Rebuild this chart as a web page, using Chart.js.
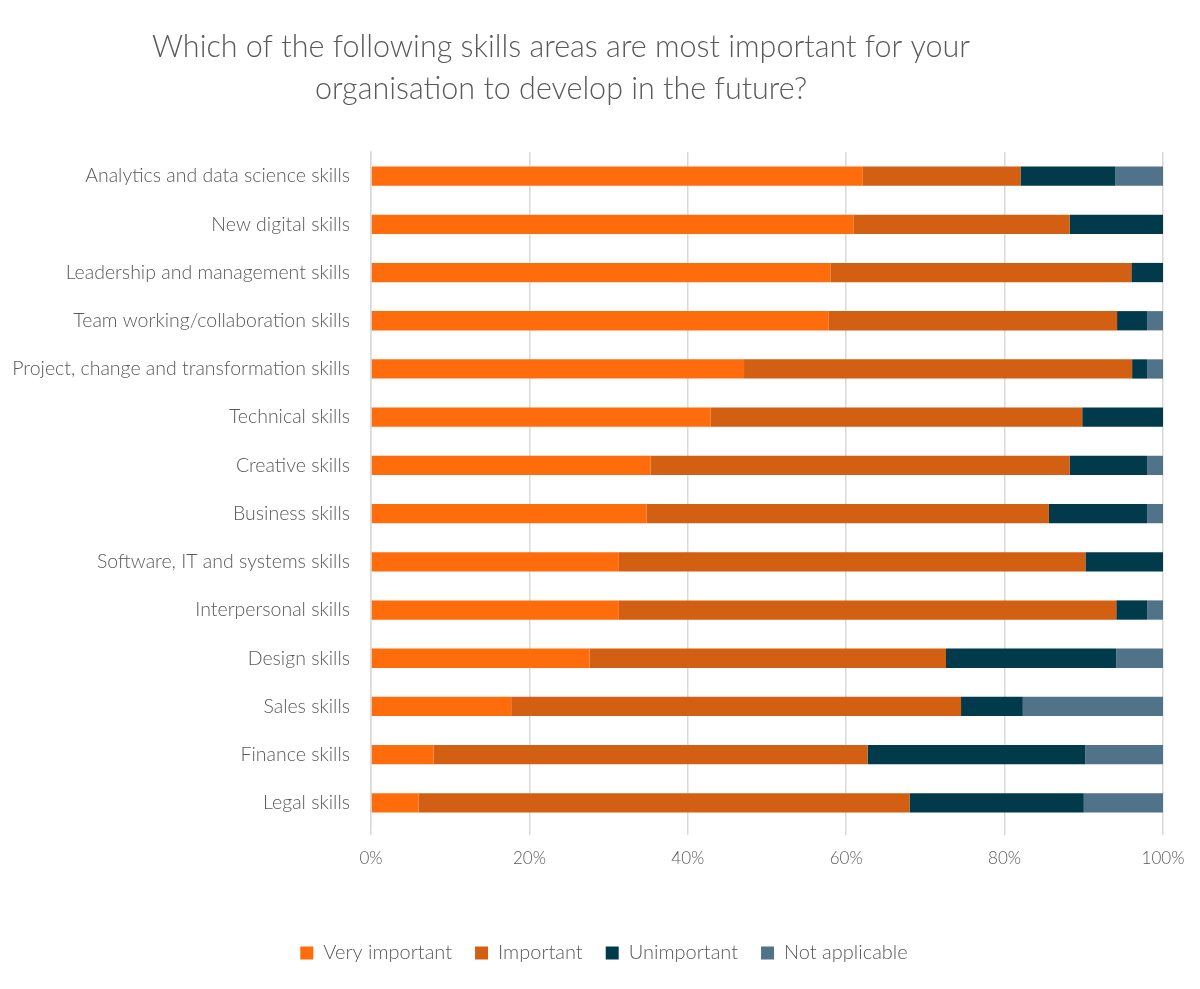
<!DOCTYPE html>
<html><head><meta charset="utf-8">
<script src="https://cdn.jsdelivr.net/npm/chart.js@4.4.1/dist/chart.umd.min.js"></script>
<style>html,body{margin:0;padding:0;background:#fff;overflow:hidden}</style>
</head><body>
<canvas id="c" width="1200" height="989"></canvas>
<script>
const titleLines = ["Which of the following skills areas are most important for your", "organisation to develop in the future?"];
const categories = ["Analytics and data science skills","New digital skills","Leadership and management skills","Team working/collaboration skills","Project, change and transformation skills","Technical skills","Creative skills","Business skills","Software, IT and systems skills","Interpersonal skills","Design skills","Sales skills","Finance skills","Legal skills"];
const seriesNames = ["Very important","Important","Unimportant","Not applicable"];
const veryImportant = [62.1,60.9,58.0,57.8,47.1,42.9,35.3,34.8,31.3,31.3,27.6,17.7,7.9,6.0];
const important     = [19.9,27.3,38.0,36.4,49.0,46.9,52.9,50.8,58.9,62.8,45.0,56.8,54.8,62.0];
const unimportant   = [12.0,11.8,4.0,3.8,1.9,10.2,9.8,12.4,9.8,3.9,21.5,7.8,27.5,22.0];
const notApplicable = [6.0,0,0,2.0,2.0,0,2.0,2.0,0,2.0,5.9,17.7,9.8,10.0];
const xTickValues = [0,20,40,60,80,100];

const colors = ["#FF6C0C","#D35F12","#003A4B","#50738A"];
const textColor = "#595959";
const fontFamily = "Lato, 'Open Sans', sans-serif";

const titlePlugin = {
  id: 'customTitle',
  afterDraw(chart) {
    const ctx = chart.ctx;
    ctx.save();
    ctx.font = "300 30.5px " + fontFamily;
    ctx.fillStyle = textColor;
    ctx.textAlign = "center";
    ctx.textBaseline = "middle";
    ctx.fillText(titleLines[0], 561, 47);
    ctx.fillText(titleLines[1], 561, 89);
    ctx.restore();
  }
};

const values = [veryImportant, important, unimportant, notApplicable];
new Chart(document.getElementById('c'), {
  type: 'bar',
  data: {
    labels: categories,
    datasets: seriesNames.map((n, i) => ({
      label: n,
      data: values[i],
      backgroundColor: colors[i],
      borderWidth: 0,
      categoryPercentage: 0.8,
      barPercentage: 0.5
    }))
  },
  options: {
    indexAxis: 'y',
    responsive: false,
    animation: false,
    layout: { padding: { top: 152, left: 8, right: 0, bottom: 16 } },
    plugins: {
      title: { display: false },
      tooltip: { enabled: false },
      legend: {
        position: 'bottom',
        labels: {
          boxWidth: 13, boxHeight: 13, padding: 23,
          color: textColor,
          font: { family: fontFamily, size: 20, weight: 300 }
        }
      }
    },
    scales: {
      x: {
        stacked: true, min: 0, max: 100,
        afterBuildTicks(scale) { scale.ticks = xTickValues.map(v => ({ value: v })); },
        afterFit(scale) { scale.height = 93; scale.paddingRight = 37; },
        grid: { color: "#d9d9d9", lineWidth: 1.5, tickLength: 8, drawTicks: true },
        border: { display: false },
        ticks: {
          color: textColor, padding: 13,
          font: { family: fontFamily, size: 17, weight: 300 },
          callback: v => v + "%"
        }
      },
      y: {
        stacked: true,
        afterFit(scale) { scale.width = 363; },
        grid: { display: false, drawTicks: false },
        border: { display: true, color: "#d9d9d9", width: 1.5 },
        ticks: {
          color: textColor, padding: 21,
          font: { family: fontFamily, size: 19.5, weight: 300 }
        }
      }
    }
  },
  plugins: [titlePlugin]
});
</script>
</body></html>
